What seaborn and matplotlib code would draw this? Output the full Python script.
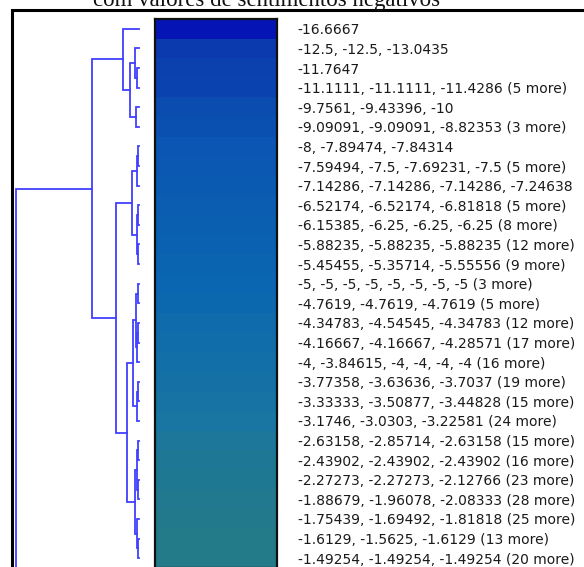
import numpy as np
import pandas as pd
import matplotlib
matplotlib.use('Agg')
import matplotlib.pyplot as plt
import seaborn as sns
from matplotlib.colors import LinearSegmentedColormap
from matplotlib.patches import Rectangle

# rótulos dos grupos (valores de sentimento negativos)
row_labels = [
    '-16.6667',
    '-12.5, -12.5, -13.0435',
    '-11.7647',
    '-11.1111, -11.1111, -11.4286 (5 more)',
    '-9.7561, -9.43396, -10',
    '-9.09091, -9.09091, -8.82353 (3 more)',
    '-8, -7.89474, -7.84314',
    '-7.59494, -7.5, -7.69231, -7.5 (5 more)',
    '-7.14286, -7.14286, -7.14286, -7.24638',
    '-6.52174, -6.52174, -6.81818 (5 more)',
    '-6.15385, -6.25, -6.25, -6.25 (8 more)',
    '-5.88235, -5.88235, -5.88235 (12 more)',
    '-5.45455, -5.35714, -5.55556 (9 more)',
    '-5, -5, -5, -5, -5, -5, -5, -5 (3 more)',
    '-4.7619, -4.7619, -4.7619 (5 more)',
    '-4.34783, -4.54545, -4.34783 (12 more)',
    '-4.16667, -4.16667, -4.28571 (17 more)',
    '-4, -3.84615, -4, -4, -4, -4 (16 more)',
    '-3.77358, -3.63636, -3.7037 (19 more)',
    '-3.33333, -3.50877, -3.44828 (15 more)',
    '-3.1746, -3.0303, -3.22581 (24 more)',
    '-2.63158, -2.85714, -2.63158 (15 more)',
    '-2.43902, -2.43902, -2.43902 (16 more)',
    '-2.27273, -2.27273, -2.12766 (23 more)',
    '-1.88679, -1.96078, -2.08333 (28 more)',
    '-1.75439, -1.69492, -1.81818 (25 more)',
    '-1.6129, -1.5625, -1.6129 (13 more)',
    '-1.49254, -1.49254, -1.49254 (20 more)',
]

# média aproximada de cada grupo
row_values = [-16.67, -12.68, -11.76, -11.2, -9.73, -9.0, -7.91, -7.55, -7.17,
              -6.6, -6.22, -5.9, -5.45, -5.0, -4.76, -4.42, -4.2, -3.98, -3.7,
              -3.42, -3.15, -2.7, -2.44, -2.22, -1.98, -1.75, -1.6, -1.49]

# ligações do dendrograma: (filho esquerdo, filho direito, altura)
# folhas 0..27 visíveis, 28 = resto da árvore (fora da imagem)
linkage = [
    (2, 3, 2), (1, 29, 4), (4, 5, 3), (30, 31, 9), (0, 32, 16),
    (6, 7, 1), (34, 8, 2), (9, 10, 1), (11, 12, 1), (36, 37, 2), (35, 38, 7),
    (13, 14, 1), (15, 16, 1), (41, 17, 2), (40, 42, 3),
    (18, 19, 1), (44, 20, 2), (43, 45, 6),
    (21, 22, 1), (23, 24, 1), (47, 48, 2), (26, 27, 1), (25, 50, 2), (49, 51, 4),
    (46, 52, 12), (39, 53, 23), (33, 54, 47), (55, 28, 123),
]
hidden_leaf_y = 40.0
root_height = 123

W, H = 584, 567


def fx(x):
    return x / W


def fy(y):
    return 1 - y / H


fig = plt.figure(figsize=(W / 100, H / 100), dpi=100)

fig.text(fx(267), fy(6), 'com valores de sentimentos negativos', ha='center',
         va='baseline', fontsize=16.5, family='Liberation Serif', color='#111111')

# moldura
fig.patches.append(Rectangle((fx(12), fy(600)), fx(700), fy(10) - fy(600),
                             transform=fig.transFigure, fill=False,
                             edgecolor='black', lw=2.2))

top, bottom = 19, 568
hax = fig.add_axes([fx(155), fy(bottom), fx(277) - fx(155), fy(top) - fy(bottom)])
df = pd.DataFrame({'v': row_values}, index=row_labels)
cmap = LinearSegmentedColormap.from_list('bg', [
    (0.00, '#0515b5'), (0.26, '#0b3aae'), (0.46, '#0a4cb0'), (0.60, '#0a58b2'),
    (0.77, '#0a66b0'), (0.83, '#126ea8'), (0.90, '#1a76a0'), (0.94, '#1e7894'),
    (1.00, '#237a88')])
sns.heatmap(df, ax=hax, cmap=cmap, vmin=min(row_values), vmax=max(row_values),
            cbar=False, xticklabels=False, yticklabels=True)
hax.yaxis.tick_right()
hax.tick_params(axis='y', length=0, pad=15, labelsize=10, labelcolor='#1a1a1a',
                labelrotation=0)
for lab in hax.get_yticklabels():
    lab.set_ha('left')
    lab.set_family('DejaVu Sans')
hax.set_ylabel('')
for s in hax.spines.values():
    s.set_visible(True)
    s.set_color('#111111')
    s.set_linewidth(1.6)

# dendrograma
dax = fig.add_axes([fx(16), fy(bottom), fx(139) - fx(16), fy(top) - fy(bottom)])
pos = {i: i + 0.5 for i in range(len(row_labels))}
pos[len(row_labels)] = hidden_leaf_y
hgt = {i: 0 for i in pos}
nid = len(pos)
for a, b, h in linkage:
    dax.plot([hgt[a], h, h, hgt[b]], [pos[a], pos[a], pos[b], pos[b]],
             color='#4040ff', lw=1.3, clip_on=False, solid_joinstyle='miter')
    pos[nid] = (pos[a] + pos[b]) / 2
    hgt[nid] = h
    nid += 1
dax.set_xlim(root_height, 0)
dax.set_ylim(len(row_labels), 0)
dax.axis('off')

fig.savefig('out.png', dpi=100)
